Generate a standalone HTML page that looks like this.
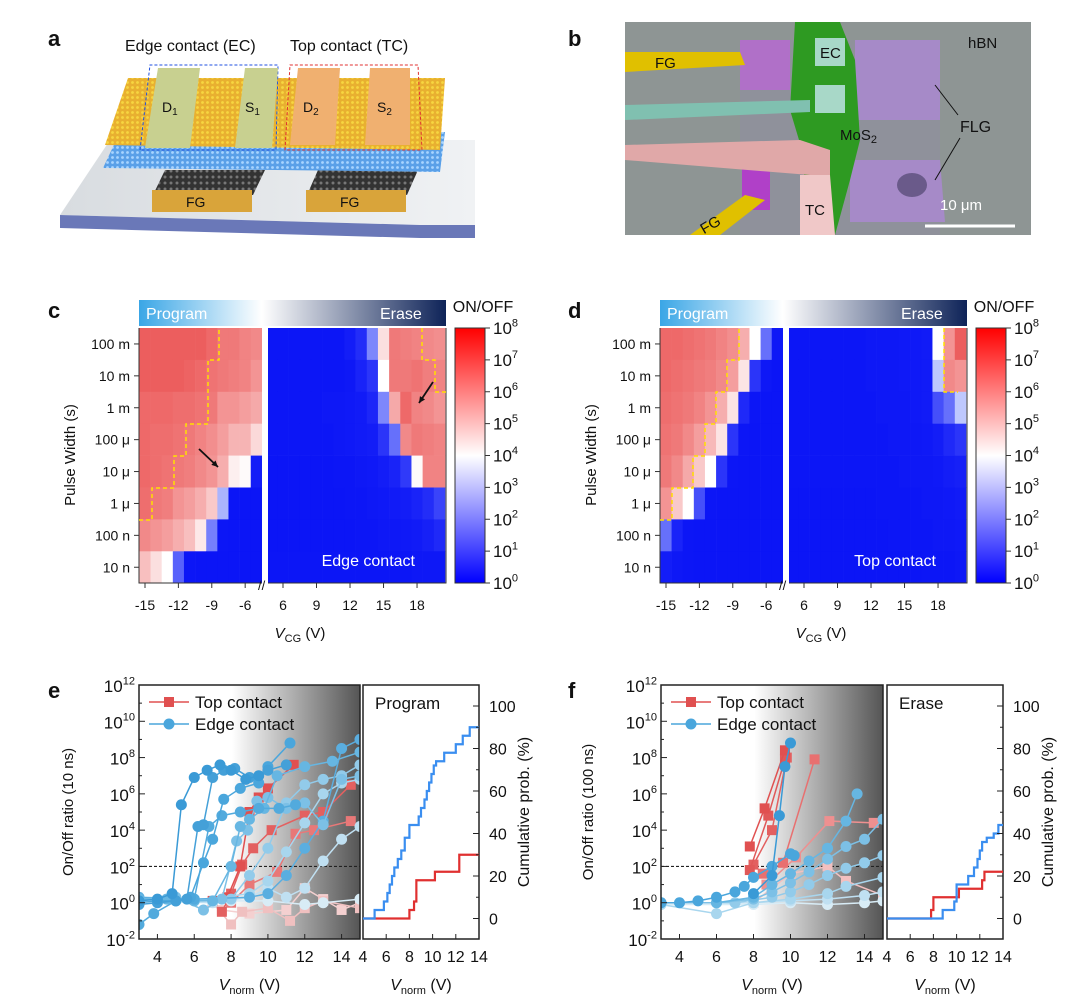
<!DOCTYPE html>
<html><head><meta charset="utf-8">
<style>
html,body{margin:0;padding:0;background:#fff;}
svg{display:block;font-family:"Liberation Sans",Arial,sans-serif;}
text{fill:#111;}
</style></head>
<body>
<svg id="fig" width="1080" height="1002" viewBox="0 0 1080 1002" xmlns="http://www.w3.org/2000/svg">
<defs>
<linearGradient id="slabTop" x1="0" y1="0" x2="1" y2="0"><stop offset="0" stop-color="#d8dce0"/><stop offset="1" stop-color="#f0f2f4"/></linearGradient>
<linearGradient id="bannerC" x1="0" y1="0" x2="1" y2="0"><stop offset="0" stop-color="#3aa6e6"/><stop offset="0.4" stop-color="#ffffff"/><stop offset="1" stop-color="#0e2358"/></linearGradient>
<linearGradient id="cbar" x1="0" y1="0" x2="0" y2="1"><stop offset="0" stop-color="#ff0000"/><stop offset="0.5" stop-color="#ffffff"/><stop offset="1" stop-color="#0000ff"/></linearGradient>
<linearGradient id="shade" x1="0" y1="0" x2="1" y2="0"><stop offset="0" stop-color="#ffffff"/><stop offset="0.42" stop-color="#ffffff"/><stop offset="1" stop-color="#555555"/></linearGradient>
<pattern id="dots" width="5" height="5" patternUnits="userSpaceOnUse"><rect width="5" height="5" fill="#e8b030"/><circle cx="2.5" cy="2.5" r="1.4" fill="#f7d640"/></pattern>
<pattern id="dotsB" width="5" height="5" patternUnits="userSpaceOnUse"><rect width="5" height="5" fill="#5aa0e8"/><circle cx="2.5" cy="2.5" r="1.4" fill="#a8d4ff"/></pattern>
<pattern id="hex" width="6" height="6" patternUnits="userSpaceOnUse"><rect width="6" height="6" fill="#333"/><circle cx="3" cy="3" r="1.5" fill="#777"/></pattern>
</defs>

<g>
<text x="48" y="46" font-size="22" font-weight="bold">a</text>
<text x="125" y="51" font-size="16">Edge contact (EC)</text>
<text x="290" y="51" font-size="16">Top contact (TC)</text>
<polygon points="60,215 110,140 475,140 475,225 420,225" fill="url(#slabTop)"/>
<polygon points="60,215 420,225 475,225 475,238 420,238 60,228" fill="#6a78b8"/>
<polygon points="153,195 165,170 265,170 253,195" fill="url(#hex)"/>
<polygon points="307,195 318,170 418,170 407,195" fill="url(#hex)"/>
<rect x="152" y="190" width="100" height="22" fill="#d9a43a"/>
<rect x="306" y="190" width="100" height="22" fill="#d9a43a"/>
<text x="186" y="207" font-size="14">FG</text>
<text x="340" y="207" font-size="14">FG</text>
<polygon points="103,168 120,132 445,132 440,172" fill="url(#dotsB)"/>
<polygon points="105,145 128,78 445,78 440,150" fill="url(#dots)"/>
<polygon points="140,150 150,65 278,65 276,150" fill="none" stroke="#2050e0" stroke-width="1" stroke-dasharray="3,2"/>
<polygon points="285,150 290,65 418,65 422,150" fill="none" stroke="#e03030" stroke-width="1" stroke-dasharray="3,2"/>
<polygon points="145,148 158,68 200,68 190,148" fill="#c8d090"/>
<polygon points="235,148 245,68 278,68 272,148" fill="#c8d090"/>
<polygon points="290,145 298,68 340,68 335,145" fill="#f0b070"/>
<polygon points="365,145 370,68 410,68 410,145" fill="#f0b070"/>
<text x="162" y="112" font-size="14">D<tspan font-size="10" dy="3">1</tspan></text>
<text x="245" y="112" font-size="14">S<tspan font-size="10" dy="3">1</tspan></text>
<text x="303" y="112" font-size="14">D<tspan font-size="10" dy="3">2</tspan></text>
<text x="377" y="112" font-size="14">S<tspan font-size="10" dy="3">2</tspan></text>
</g>

<g>
<text x="568" y="46" font-size="22" font-weight="bold">b</text>
<rect x="625" y="22" width="406" height="213" fill="#8e9594"/>
<polygon points="740,40 940,40 940,235 740,235" fill="#8f8fa0" opacity="0.6"/>
<polygon points="740,40 790,40 790,90 740,90" fill="#b070c8"/>
<polygon points="855,40 940,40 940,120 855,120" fill="#a68ac8"/>
<polygon points="850,160 940,160 945,222 850,222" fill="#a68ac8"/>
<ellipse cx="912" cy="185" rx="15" ry="12" fill="#6a5a8a"/>
<polygon points="742,163 770,163 770,210 742,210" fill="#b040c8"/>
<polygon points="795,22 840,22 855,60 860,140 850,180 835,235 800,235 805,160 790,110" fill="#2e9a22"/>
<polygon points="625,52 740,52 745,65 625,72" fill="#e0c000"/>
<polygon points="625,105 810,100 810,112 625,120" fill="#80c0b0"/>
<rect x="815" y="38" width="30" height="28" fill="#a8d8c8"/>
<rect x="815" y="85" width="30" height="28" fill="#a8d8c8"/>
<polygon points="625,145 800,140 830,150 830,175 810,175 625,160" fill="#e0a8a8"/>
<polygon points="800,175 830,175 835,235 800,235" fill="#f0c8c8"/>
<polygon points="690,235 745,195 765,200 720,235" fill="#e0c000"/>
<text x="655" y="68" font-size="15">FG</text>
<text x="820" y="58" font-size="15">EC</text>
<text x="968" y="48" font-size="15">hBN</text>
<text x="960" y="132" font-size="16">FLG</text>
<line x1="935" y1="85" x2="958" y2="115" stroke="#111"/>
<line x1="935" y1="180" x2="960" y2="138" stroke="#111"/>
<text x="840" y="140" font-size="15">MoS<tspan font-size="11" dy="3">2</tspan></text>
<text x="700" y="230" font-size="15" transform="rotate(-30 710 225)">FG</text>
<text x="805" y="215" font-size="15">TC</text>
<text x="940" y="210" font-size="15" style="fill:#fff">10 μm</text>
<line x1="925" y1="226" x2="1015" y2="226" stroke="#fff" stroke-width="3"/>
</g>

<text x="48" y="318" font-size="22" font-weight="bold">c</text>
<text x="568" y="318" font-size="22" font-weight="bold">d</text>
<text x="48" y="698" font-size="22" font-weight="bold">e</text>
<text x="568" y="698" font-size="22" font-weight="bold">f</text>
<g id="cd"></g>
<g id="ef"></g>
</svg>
<script>
const rowLabels = ["100 m","10 m","1 m","100 μ","10 μ","1 μ","100 n","10 n"];
const progV = [-15,-14,-13,-12,-11,-10,-9,-8,-7,-6,-5];
const eraseV = [5,6,7,8,9,10,11,12,13,14,15,16,17,18,19,20];
const progTicks = [-15,-12,-9,-6];
const eraseTicks = [6,9,12,15,18];
const cbarTicks = [8,7,6,5,4,3,2,1,0];
const cProg = [
[7,7,7,7,7,7,6.8,6.5,6.5,6.3,6.2],
[7,7,7,7,6.9,6.8,6.6,6.5,6.4,6.3,6.0],
[6.8,6.8,6.8,6.7,6.7,6.6,6.5,6.0,6.0,5.8,5.6],
[6.8,6.7,6.7,6.6,6.5,6.3,6.1,5.8,5.4,5.4,4.7],
[6.8,6.7,6.6,6.5,6.4,6.2,6.0,5.5,4.3,4.1,0.8],
[6.7,6.5,6.4,6.0,5.8,5.5,5.0,3.3,0.3,0.3,0.3],
[6.2,6.0,5.8,5.5,5.2,4.4,2.7,0.4,0.3,0.3,0.3],
[5.2,4.6,4.0,2.3,0.4,0.3,0.3,0.3,0.3,0.3,0.3]];
const cErase = [
[0.4,0.4,0.4,0.4,0.4,0.4,0.4,0.8,1.3,2.8,4.6,6.5,6.4,6.3,6.2,6.1],
[0.4,0.4,0.4,0.4,0.4,0.4,0.4,0.5,1.0,1.5,4.0,6.5,6.5,6.6,6.4,6.3],
[0.4,0.4,0.4,0.4,0.4,0.5,0.5,0.6,0.7,1.1,2.8,5.6,6.8,6.3,6.2,6.0],
[0.4,0.4,0.4,0.4,0.4,0.4,0.5,0.6,0.7,0.8,1.5,2.5,6.2,6.5,6.4,6.3],
[0.3,0.3,0.3,0.3,0.3,0.3,0.4,0.4,0.5,0.6,0.8,1.0,1.6,4.1,6.3,6.3],
[0.3,0.3,0.3,0.3,0.3,0.3,0.3,0.4,0.4,0.5,0.6,0.7,0.8,1.0,1.3,1.8],
[0.3,0.3,0.3,0.3,0.3,0.3,0.3,0.3,0.4,0.4,0.5,0.5,0.6,0.7,0.9,1.2],
[0.4,0.4,0.4,0.4,0.4,0.4,0.4,0.4,0.4,0.4,0.4,0.4,0.4,0.5,0.5,0.5]];
const dProg = [
[6.8,6.8,6.7,6.6,6.5,6.3,6.1,5.5,4.0,2.5,0.5],
[6.8,6.7,6.6,6.5,6.4,6.2,5.8,4.5,1.5,0.5,0.3],
[6.7,6.6,6.5,6.3,6.0,5.5,4.5,1.2,0.4,0.3,0.3],
[6.6,6.5,6.2,5.8,5.3,4.5,1.5,0.4,0.3,0.3,0.3],
[6.5,6.2,5.6,5.0,4.0,1.5,0.4,0.3,0.3,0.3,0.3],
[6.0,5.0,4.0,2.0,0.4,0.3,0.3,0.3,0.3,0.3,0.3],
[2.5,1.0,0.4,0.3,0.3,0.3,0.3,0.3,0.3,0.3,0.3],
[0.8,0.5,0.4,0.3,0.3,0.3,0.3,0.3,0.3,0.3,0.3]];
const dErase = [
[0.4,0.4,0.4,0.4,0.4,0.4,0.4,0.5,0.5,0.5,0.6,0.6,0.7,4.0,6.0,7.0],
[0.4,0.4,0.4,0.4,0.4,0.4,0.4,0.5,0.5,0.5,0.6,0.6,0.7,3.5,6.2,6.0],
[0.4,0.4,0.4,0.4,0.4,0.4,0.4,0.4,0.5,0.5,0.5,0.6,0.7,2.0,2.5,3.5],
[0.4,0.4,0.4,0.4,0.4,0.4,0.4,0.4,0.4,0.5,0.5,0.5,0.6,0.8,1.2,1.5],
[0.4,0.4,0.4,0.4,0.4,0.4,0.4,0.4,0.4,0.4,0.5,0.5,0.5,0.6,0.8,0.9],
[0.3,0.3,0.3,0.3,0.3,0.3,0.3,0.3,0.4,0.4,0.4,0.4,0.5,0.5,0.6,0.7],
[0.3,0.3,0.3,0.3,0.3,0.3,0.3,0.3,0.3,0.4,0.4,0.4,0.4,0.5,0.5,0.6],
[0.3,0.3,0.3,0.3,0.3,0.3,0.3,0.3,0.3,0.3,0.3,0.3,0.4,0.4,0.4,0.5]];

const logTicks = [-2,0,2,4,6,8,10,12];
const vTicks = [4,6,8,10,12,14];
const probTicks = [0,20,40,60,80,100];
const eEdge = [
[[3,0.1],[4,0.2],[4.8,0.5],[5.3,5.4],[6,6.9],[6.7,7.3],[7.4,7.6],[8,7.3],[8.8,6.8],[9.5,7.0]],
[[3,-0.1],[4,0],[5,0.1],[5.6,0.2],[6.2,4.2],[6.5,4.3],[7,6.9],[7.6,7.3],[8.2,7.4],[9,6.9],[10,7.3],[11,7.6]],
[[3,0],[4,0.1],[5,0.1],[5.8,0.3],[6.5,2.2],[7,3.5],[7.6,5.7],[8.5,6.3],[9.5,6.6],[10,7.5],[11.2,8.8]],
[[3,-1.2],[3.8,-0.6],[5,0.1],[6,0.2],[6.8,4.2],[7.5,4.8],[8.5,5.0],[9.5,5.2],[10.6,5.2],[11.5,5.4]],
[[3,0.2],[4.5,0.2],[6,0.1],[7,0.1],[8,2.0],[8.5,4.2],[9,4.6],[9.8,5.2],[10.5,7.0],[12,7.5],[13.5,7.8],[15,8.3]],
[[3,0.2],[5,0.3],[6.5,-0.4],[7.5,0.2],[8.3,3.4],[8.9,4.0],[9.4,5.6],[10,5.8],[11,5.2],[12,5.5],[13,4.3],[14,6.8],[15,7.0]],
[[3,0.3],[6,0.2],[9,0.3],[10,0.5],[11,1.5],[12,3.0],[13,4.5],[14,8.5],[15,9.0]],
[[3,0.2],[6,0.1],[8,0.2],[9,1.5],[10,3.0],[11,5.5],[12,6.5],[13,6.8],[14,7.0],[15,7.6]],
[[3,0.1],[6,0.1],[9,0.5],[10,1.2],[11,2.8],[12,4.4],[13,6.0],[14,6.6],[15,6.8]],
[[3,0.1],[7,0.0],[9,0.3],[10,0.8],[11,0.3],[12,0.8],[13,2.3],[14,3.5],[15,4.2]],
[[3,0.2],[8,0.1],[10,0.1],[12,-0.1],[13,0.0],[15,0.2]]];
const eTop = [
[[7,0.1],[7.8,0.3],[8.5,2.0],[9,5.0],[9.5,5.8],[10,6.3],[11.4,7.6]],
[[7.5,-0.5],[8,0.5],[8.6,2.1],[9.2,3.0],[10.2,4.0],[12,4.8],[13,5.0],[14.5,6.5]],
[[8,0],[9,1.0],[10.5,1.7],[11.5,3.8],[12.5,4.0],[14.5,4.5]],
[[7,0],[8,-1.2],[8.6,-0.5],[10,-0.3],[11.2,-1],[12,-0.3],[13,0.1],[15,-0.3]],
[[7.5,-0.4],[9,-0.6],[11,-0.4],[12,0.8],[13,0.2],[14,-0.4],[15,0.0]]];
const fEdge = [
[[8,0.5],[9,1.5],[9.4,4.8],[9.7,7.5],[10,8.8]],
[[3,0],[4,0],[5,0.1],[6,0.3],[7,0.6],[7.5,0.9],[8,1.4],[9,2.0],[10,2.7],[10.2,2.6]],
[[6,0],[8,0.3],[9,1.0],[10,1.6],[11,2.3],[12,3.0],[13,4.5],[13.6,6.0]],
[[3,0],[6,0],[8,0.2],[9,0.6],[10,1.1],[11,1.7],[12,2.4],[13,3.1],[14,3.5],[15,4.6]],
[[3,0],[7,0],[9,0.3],[10,0.6],[11,1.0],[12,1.5],[13,1.9],[14,2.2],[15,2.6]],
[[3,-0.1],[6,-0.6],[8,0],[10,0.2],[12,0.5],[13,0.9],[15,1.4]],
[[3,0],[8,0],[10,0.1],[12,0.2],[14,0.4],[15,0.6]],
[[3,-0.1],[8,-0.1],[10,0],[12,-0.1],[14,0],[15,0.1]]];
const fTop = [
[[7.8,3.1],[8.6,5.2],[9.7,8.4]],
[[7.8,1.8],[8.8,4.8],[9.7,7.9]],
[[8,2.1],[9,4.0],[9.8,8.0]],
[[8.5,1.6],[9.6,2.2],[11.3,7.9]],
[[8.7,1.0],[10.3,2.5],[12.1,4.5],[14.5,4.4]],
[[8,0],[10,1.6],[12,2.0],[13,1.2],[15,0.4]]];
const eCumBlueX = [4,5,5.8,6.1,6.3,6.5,6.7,7.0,7.3,7.6,8.0,8.8,9.0,9.3,9.5,9.7,9.9,10.1,10.3,11.0,12.0,12.6,13.2,14];
const eCumBlueY = [0,4,8,12,16,20,24,28,32,38,44,48,52,56,60,64,68,72,74,78,82,86,90,90];
const eCumRedX = [4,5,8.0,8.4,8.6,10.2,12.3,14];
const eCumRedY = [0,0,4,8,18,22,30,30];
const fCumBlueX = [4,8.8,9.8,10.0,10.8,11.0,11.5,11.8,12.0,12.2,12.6,13.2,13.6,14];
const fCumBlueY = [0,4,8,16,16,20,24,28,32,36,38,40,44,44];
const fCumRedX = [4,7.8,8.0,10.2,12.2,12.4,14];
const fCumRedY = [0,4,10,14,18,22,22];

const NS = "http://www.w3.org/2000/svg";
function mk(tag, attrs, parent){const e=document.createElementNS(NS,tag);for(const k in attrs)e.setAttribute(k,attrs[k]);parent.appendChild(e);return e;}
function cmap(v){const t=Math.max(0,Math.min(8,v));let r,g,b;
 if(t<4){const f=t/4;r=Math.round(235*f*f+10);g=Math.round(20+235*f*f);b=Math.round(245+10*f);}
 else{const f=(t-4)/4;r=Math.round(255-25*f);g=Math.round(255-215*f);b=Math.round(255-215*f);}
 return `rgb(${r},${g},${b})`;}
function supText(parent,x,y,exp,size,anchor){
 const t=mk("text",{x:x,y:y,"font-size":size,"text-anchor":anchor||"start"},parent);
 
 
 t.appendChild(document.createTextNode("10"));
 const s=mk("tspan",{dy:-size*0.45,"font-size":size*0.65},t);s.textContent=String(exp);return t;}

const cd=document.getElementById("cd");
function heatmap(ox, prog, erase, label, name){
 const g=mk("g",{},cd);
 
 
 const top=328,rowH=31.9, cw=11.13;
 const xL=v=>ox+145+(v+15)*cw;
 const xR=v=>ox+283+(v-6)*11.17;
 const yR=r=>top+r*rowH;
 const bn=mk("rect",{x:ox+139,y:300,width:307,height:26,fill:"url(#bannerC)"},g);
 
 
 const tp=mk("text",{x:ox+146,y:319,"font-size":16,style:"fill:#fff"},g);tp.textContent="Program";
 
 
 const te=mk("text",{x:ox+380,y:319,"font-size":16,style:"fill:#fff"},g);te.textContent="Erase";
 
 
 prog.forEach((row,r)=>row.forEach((v,c)=>{
  const cell=mk("rect",{x:xL(progV[c])-cw/2,y:yR(r),width:cw+0.3,height:rowH+0.3,fill:cmap(v)},g);
  
  
 }));
 erase.forEach((row,r)=>row.forEach((v,c)=>{
  const cell=mk("rect",{x:xR(eraseV[c])-5.585,y:yR(r),width:11.5,height:rowH+0.3,fill:cmap(v)},g);
  
  
 }));
 mk("rect",{x:ox+262,y:326,width:6,height:260,fill:"#fff"},g);
 const frame=mk("path",{d:`M${ox+139},328 V583 H${ox+262} M${ox+268},583 H${ox+446} V328`,fill:"none",stroke:"#333","stroke-width":1},g);
 
 
 const br=mk("text",{x:ox+258,y:590,"font-size":13},g);br.textContent="//";
 
 
 rowLabels.forEach((l,r)=>{
  const y=yR(r)+rowH/2;
  mk("line",{x1:ox+134,x2:ox+139,y1:y,y2:y,stroke:"#333"},g);
  const t=mk("text",{x:ox+130,y:y+5,"font-size":14,"text-anchor":"end"},g);t.textContent=l;
  
  
 });
 const xt=(x,l)=>{mk("line",{x1:x,x2:x,y1:583,y2:588,stroke:"#333"},g);
  const t=mk("text",{x:x,y:610,"font-size":14,"text-anchor":"middle"},g);t.textContent=l;
  
  };
 progTicks.forEach(v=>xt(xL(v),v));
 eraseTicks.forEach(v=>xt(xR(v),v));
 const yl=mk("text",{x:0,y:0,"font-size":15,"text-anchor":"middle",transform:`translate(${ox+75},455) rotate(-90)`},g);yl.textContent="Pulse Width (s)";
 
 
 const xl=mk("text",{x:ox+300,y:638,"font-size":15,"text-anchor":"middle"},g);
 
 
 xl.innerHTML='<tspan font-style="italic">V</tspan><tspan font-size="11" dy="4">CG</tspan><tspan dy="-4"> (V)</tspan>';
 const lab=mk("text",{x:ox+415,y:566,"font-size":16,"text-anchor":"end",style:"fill:#fff"},g);lab.textContent=label;
 
 
 const cb=mk("rect",{x:ox+455,y:328,width:30,height:255,fill:"url(#cbar)",stroke:"#333"},g);
 
 
 const ct=mk("text",{x:ox+483,y:312,"font-size":16,"text-anchor":"middle"},g);ct.textContent="ON/OFF";
 
 
 cbarTicks.forEach(v=>{const y=583-v*255/8;mk("line",{x1:ox+485,x2:ox+490,y1:y,y2:y,stroke:"#333"},g);supText(g,ox+493,y+6,v,17);});
}
heatmap(0,cProg,cErase,"Edge contact","heatmap-edge-contact");
heatmap(521,dProg,dErase,"Top contact","heatmap-top-contact");
function poly(d,name){const p=mk("path",{d:d,fill:"none",stroke:"#ffe000","stroke-width":1.5,"stroke-dasharray":"4,3"},cd);
 
 }
poly("M139,520 H152 V488 H174 V456 H186 V424 H208 V360 H219 V328","yellow-boundary-c-program");
poly("M422,328 V360 H435 V392 H446","yellow-boundary-c-erase");
poly("M660,520 H672 V488 H693 V456 H705 V424 H716 V392 H727 V360 H739 V328","yellow-boundary-d-program");
poly("M944,328 V392 H958","yellow-boundary-d-erase");
[[199,449,218,467],[433,382,419,403]].forEach(a=>{const l=mk("line",{x1:a[0],y1:a[1],x2:a[2],y2:a[3],stroke:"#111","stroke-width":1.8},cd);
 
 
 const ang=Math.atan2(a[3]-a[1],a[2]-a[0]);const s=7;
 const h=mk("polygon",{points:`${a[2]},${a[3]} ${a[2]-s*Math.cos(ang-0.45)},${a[3]-s*Math.sin(ang-0.45)} ${a[2]-s*Math.cos(ang+0.45)},${a[3]-s*Math.sin(ang+0.45)}`,fill:"#111"},cd);
 
 });

const ef=document.getElementById("ef");
const edgeCols=["#3a9ad6","#44a0d8","#4aa6dc","#52aadd","#66b6e2","#7cc0e6","#5aaee0","#92cbea","#a8d6ee","#c0e0f2","#d8ecf6"];
const topColsE=["#e05050","#e36060","#e87878","#f0c0c0","#f4d0d0"];
const topColsF=["#e05050","#e05858","#e36060","#e87070","#ee9090","#f3c0c0"];
const edgeColsF=["#3a9ad6","#4aa6dc","#66b6e2","#7cc0e6","#92cbea","#a8d6ee","#c0e0f2","#d8ecf6"];
function panelE(ox, x0, x1, rx0, rx1, edge, top, ecols, tcols, cbx, cby, crx, cry, title, ylab, name){
 const g=mk("g",{},ef);
 
 
 const yT=685,yB=939;
 const X=v=>x0+(v-3)*(x1-x0)/12;
 const Y=e=>yB-(e+2)*(yB-yT)/14;
 const XR=v=>rx0+(v-4)*(rx1-rx0)/10;
 const YR=p=>918.5-p*2.125;
 const bg=mk("rect",{x:x0,y:yT,width:x1-x0,height:yB-yT,fill:"url(#shade)"},g);
 
 
 const clip=mk("clipPath",{id:"clip"+name},g);mk("rect",{x:x0,y:yT,width:x1-x0,height:yB-yT},clip);
 const dg=mk("g",{"clip-path":`url(#clip${name})`},g);
 const th=mk("line",{x1:x0,x2:x1,y1:Y(2),y2:Y(2),stroke:"#222","stroke-dasharray":"3,2","stroke-width":1.2},dg);
 
 
 function series(arr,cols,marker,kind){
  arr.slice().reverse().forEach((s,ir)=>{const i=arr.length-1-ir;const c=cols[i%cols.length];
   const pl=mk("polyline",{points:s.map(p=>X(p[0])+","+Y(p[1])).join(" "),fill:"none",stroke:c,"stroke-width":1.5},dg);
   
   
   s.forEach(p=>{let m;
    if(marker==="c")m=mk("circle",{cx:X(p[0]),cy:Y(p[1]),r:5.5,fill:c},dg);
    else m=mk("rect",{x:X(p[0])-5,y:Y(p[1])-5,width:10,height:10,fill:c},dg);
    
    });});
 }
 series(top,tcols,"s","top-contact");
 series(edge,ecols,"c","edge-contact");
 const ax=mk("rect",{x:x0,y:yT,width:x1-x0,height:yB-yT,fill:"none",stroke:"#222","stroke-width":1.5},g);
 
 
 for(let e=-2;e<=12;e++){const y=Y(e);mk("line",{x1:x0,x2:x0+(e%2===0?6:3),y1:y,y2:y,stroke:"#222"},g);}
 logTicks.forEach(e=>supText(g,x0-4,Y(e)+7,e,17,"end"));
 vTicks.forEach(v=>{mk("line",{x1:X(v),x2:X(v),y1:yB,y2:yB-5,stroke:"#222"},g);
  const t=mk("text",{x:X(v),y:yB+23,"font-size":16,"text-anchor":"middle"},g);t.textContent=v;
  
  });
 [["Top contact","#e05050","s"],["Edge contact","#4aa6dc","c"]].forEach((L,i)=>{const y=yT+17+i*22;
  mk("line",{x1:x0+10,x2:x0+50,y1:y,y2:y,stroke:L[1],"stroke-width":1.5},g);
  let m; if(L[2]==="c")m=mk("circle",{cx:x0+30,cy:y,r:5.5,fill:L[1]},g); else m=mk("rect",{x:x0+25,y:y-5,width:10,height:10,fill:L[1]},g);
  
  
  const t=mk("text",{x:x0+56,y:y+6,"font-size":17},g);t.textContent=L[0];
  
  });
 const yl=mk("text",{x:0,y:0,"font-size":15,"text-anchor":"middle",transform:`translate(${ox+73},812) rotate(-90)`},g);yl.textContent=ylab;
 
 
 const xl=mk("text",{x:(x0+x1)/2,y:990,"font-size":16,"text-anchor":"middle"},g);
 
 
 xl.innerHTML='<tspan font-style="italic">V</tspan><tspan font-size="11" dy="4">norm</tspan><tspan dy="-4"> (V)</tspan>';
 const rax=mk("rect",{x:rx0,y:yT,width:rx1-rx0,height:yB-yT,fill:"#fff",stroke:"#222","stroke-width":1.5},g);
 
 
 const tt=mk("text",{x:rx0+12,y:yT+24,"font-size":17},g);tt.textContent=title;
 
 
 function step(xs,ys,col,nm){let d=`M${XR(xs[0])},${YR(ys[0])}`;for(let i=1;i<xs.length;i++){d+=` H${XR(xs[i])} V${YR(ys[i])}`;}
  const p=mk("path",{d:d,fill:"none",stroke:col,"stroke-width":2.2},g);
  
  }
 step(crx,cry,"#e03030","cumulative-top-contact");
 step(cbx,cby,"#3a8ef0","cumulative-edge-contact");
 for(let p=-10;p<=110;p+=10){const y=YR(p);if(y<yT||y>yB)continue;mk("line",{x1:rx1,x2:rx1-(p%20===0?6:3),y1:y,y2:y,stroke:"#222"},g);}
 probTicks.forEach(p=>{const t=mk("text",{x:rx1+10,y:YR(p)+6,"font-size":16},g);t.textContent=p;
  
  });
 vTicks.forEach(v=>{mk("line",{x1:XR(v),x2:XR(v),y1:yB,y2:yB-5,stroke:"#222"},g);
  const t=mk("text",{x:XR(v),y:yB+23,"font-size":16,"text-anchor":"middle"},g);t.textContent=v;
  
  });
 const xr=mk("text",{x:(rx0+rx1)/2,y:990,"font-size":16,"text-anchor":"middle"},g);
 
 
 xr.innerHTML='<tspan font-style="italic">V</tspan><tspan font-size="11" dy="4">norm</tspan><tspan dy="-4"> (V)</tspan>';
 const yr=mk("text",{x:0,y:0,"font-size":16,"text-anchor":"middle",transform:`translate(${rx1+50},812) rotate(-90)`},g);yr.textContent="Cumulative prob. (%)";
 
 
}
panelE(0,139,360,363,479,eEdge,eTop,edgeCols,topColsE,eCumBlueX,eCumBlueY,eCumRedX,eCumRedY,"Program","On/Off ratio (10 ns)","panel-e-program");
panelE(520,661,883,887,1003,fEdge,fTop,edgeColsF,topColsF,fCumBlueX,fCumBlueY,fCumRedX,fCumRedY,"Erase","On/Off ratio (100 ns)","panel-f-erase");
</script>
</body></html>
